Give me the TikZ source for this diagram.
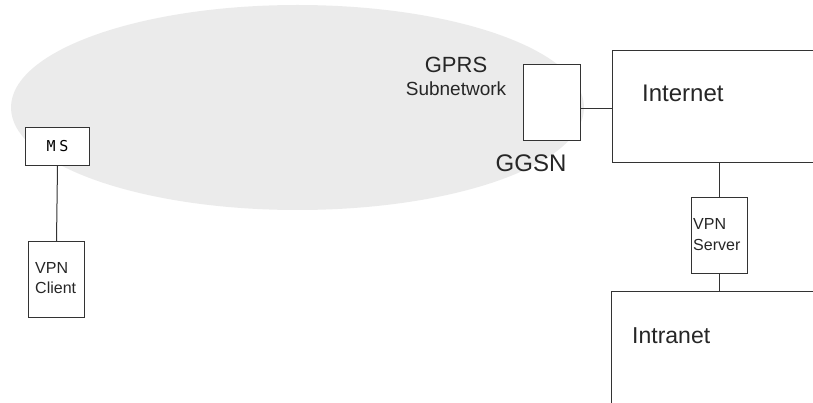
\documentclass[tikz,border=0pt]{standalone}
\usepackage{fontspec}
\setmainfont{Liberation Sans}
\setmonofont{DejaVu Sans Mono}
\usetikzlibrary{positioning}
\definecolor{CloudGrey}{HTML}{EBEBEB}
\definecolor{WireGrey}{HTML}{333333}

\tikzset{
  box/.style={draw=WireGrey, line width=1pt, fill=white, inner sep=0pt, anchor=north west},
  wire/.style={draw=WireGrey, line width=1pt},
  tag/.style={inner sep=0pt, text=black!85}
}

\begin{document}
\begin{tikzpicture}[x=1pt,y=-1pt]
    \useasboundingbox (0,0) rectangle (813,403);
    \clip (0,0) rectangle (813,403);
    \fill[CloudGrey] (297.5,107.5) ellipse [x radius=286.5, y radius=102.5];

    \node[box, minimum width=64pt, minimum height=38pt] (ms) at (25,127)
      {\ttfamily\fontsize{15}{18}\addfontfeatures{LetterSpace=25}\selectfont MS};
    \node[box, minimum width=56pt, minimum height=76pt] (client) at (28,241) {};
    \node[box, minimum width=57pt, minimum height=76pt] (ggsn) at (523,64) {};
    \node[box, minimum width=280pt, minimum height=112pt] (inet) at (612,50) {};
    \node[box, minimum width=56pt, minimum height=76pt] (server) at (691,197) {};
    \node[box, minimum width=280pt, minimum height=130pt] (intra) at (611,291) {};

    \node[tag, align=left, anchor=north west, font=\fontsize{16}{20}\selectfont]
      (clienttxt) at ([xshift=7pt, yshift=-21pt]client.north west) {VPN\\Client};
    \node[tag, align=left, anchor=north west, font=\fontsize{16}{21}\selectfont]
      (servertxt) at ([xshift=2pt, yshift=-21.5pt]server.north west) {VPN\\Server};
    \node[tag, font=\fontsize{22}{26}\selectfont] (gprs) at (456,65) {GPRS};
    \node[tag, font=\fontsize{19}{22}\selectfont] (subnet) at (456,88.5) {Subnetwork};
    \node[tag, font=\fontsize{24}{28}\selectfont] (ggsntxt) at (531,163.5) {GGSN};
    \node[tag, anchor=base west, font=\fontsize{24}{28}\selectfont] (inettxt) at (642,102) {Internet};
    \node[tag, anchor=base west, font=\fontsize{23}{28}\selectfont] (intratxt) at (632,343) {Intranet};

    \draw[wire] (ms.south) -- (client.north);
    \draw[wire] ([yshift=-6pt]ggsn.east) -- ([yshift=-6pt]ggsn.east -| inet.west);
    \draw[wire] (server.north |- inet.south) -- (server.north);
    \draw[wire] (server.south) -- (server.south |- intra.north);
\end{tikzpicture}
\end{document}
